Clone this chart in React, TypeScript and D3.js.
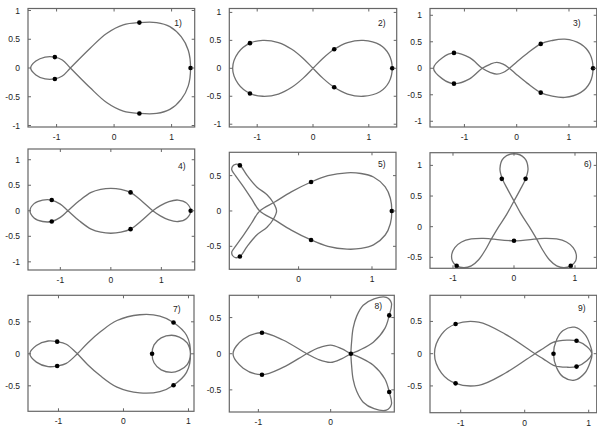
import React from "react";
import * as d3 from "d3";

type Pt = [number, number];

// orbit shapes (x, y in plot units)
const curve1: Pt[] = [
  [1.33, 0], [1.29, 0.31], [1.17, 0.54], [0.97, 0.72], [0.74, 0.79], [0.44, 0.79], [0.16, 0.75],
  [-0.13, 0.6], [-0.42, 0.34], [-0.76, 0], [-0.9, -0.14], [-1.03, -0.19], [-1.2, -0.19],
  [-1.36, -0.12], [-1.45, 0], [-1.36, 0.12], [-1.2, 0.19], [-1.03, 0.19], [-0.9, 0.14], [-0.76, 0],
  [-0.42, -0.34], [-0.13, -0.6], [0.16, -0.75], [0.44, -0.79], [0.74, -0.79], [0.97, -0.72],
  [1.17, -0.54], [1.29, -0.31],
];
const dots1: Pt[] = [[0.44, 0.79], [0.44, -0.79], [1.33, 0], [-1.03, 0.19], [-1.03, -0.19]];

const curve2: Pt[] = [
  [1.42, 0], [1.36, 0.25], [1.2, 0.42], [0.9, 0.5], [0.62, 0.46], [0.38, 0.34], [0.18, 0.18], [0, 0],
  [-0.18, -0.18], [-0.38, -0.34], [-0.62, -0.46], [-0.9, -0.5], [-1.13, -0.45], [-1.34, -0.28],
  [-1.44, 0], [-1.34, 0.28], [-1.13, 0.45], [-0.9, 0.5], [-0.62, 0.46], [-0.38, 0.34], [-0.18, 0.18],
  [0, 0], [0.18, -0.18], [0.38, -0.34], [0.62, -0.46], [0.9, -0.5], [1.2, -0.42], [1.36, -0.25],
];
const dots2: Pt[] = [[-1.13, 0.45], [-1.13, -0.45], [0.38, 0.34], [0.38, -0.34], [1.42, 0]];

const curve3: Pt[] = [
  [1.46, 0], [1.4, 0.27], [1.22, 0.46], [0.92, 0.55], [0.66, 0.52], [0.46, 0.46], [0.2, 0.28],
  [0, 0.12], [-0.14, 0], [-0.26, -0.08], [-0.38, -0.11], [-0.5, -0.08], [-0.66, 0], [-0.9, 0.2],
  [-1.2, 0.29], [-1.42, 0.2], [-1.59, 0], [-1.42, -0.2], [-1.2, -0.29], [-0.9, -0.2], [-0.66, 0],
  [-0.5, 0.08], [-0.38, 0.11], [-0.26, 0.08], [-0.14, 0], [0, -0.12], [0.2, -0.28], [0.46, -0.46],
  [0.66, -0.52], [0.92, -0.55], [1.22, -0.46], [1.4, -0.27],
];
const dots3: Pt[] = [[-1.2, 0.29], [-1.2, -0.29], [0.46, 0.46], [0.46, -0.46], [1.46, 0]];

const curve4: Pt[] = [
  [1.58, 0], [1.5, 0.15], [1.33, 0.21], [1.15, 0.18], [0.98, 0.1], [0.83, 0], [0.6, -0.2],
  [0.39, -0.36], [0.2, -0.42], [0, -0.44], [-0.2, -0.42], [-0.39, -0.36], [-0.62, -0.2], [-0.85, 0],
  [-1.0, 0.13], [-1.17, 0.21], [-1.35, 0.21], [-1.52, 0.14], [-1.6, 0], [-1.52, -0.14],
  [-1.35, -0.21], [-1.17, -0.21], [-1.0, -0.13], [-0.85, 0], [-0.62, 0.2], [-0.39, 0.36],
  [-0.2, 0.42], [0, 0.44], [0.2, 0.42], [0.39, 0.36], [0.6, 0.2], [0.83, 0], [0.98, -0.1],
  [1.15, -0.18], [1.33, -0.21], [1.5, -0.15],
];
const dots4: Pt[] = [[-1.17, 0.21], [-1.17, -0.21], [0.39, 0.36], [0.39, -0.36], [1.58, 0]];

const curve5: Pt[] = [
  [1.27, 0], [1.25, 0.18], [1.18, 0.34], [1.02, 0.48], [0.85, 0.53], [0.66, 0.54], [0.4, 0.5],
  [0.17, 0.41], [-0.1, 0.27], [-0.32, 0.13], [-0.53, 0], [-0.64, -0.17], [-0.75, -0.34],
  [-0.86, -0.5], [-0.91, -0.58], [-0.9, -0.63], [-0.86, -0.66], [-0.8, -0.645], [-0.7, -0.5],
  [-0.57, -0.34], [-0.43, -0.23], [-0.34, -0.11], [-0.3, 0], [-0.34, 0.11], [-0.43, 0.23],
  [-0.57, 0.34], [-0.7, 0.5], [-0.8, 0.645], [-0.86, 0.66], [-0.9, 0.63], [-0.91, 0.58],
  [-0.86, 0.5], [-0.75, 0.34], [-0.64, 0.17], [-0.53, 0], [-0.32, -0.13], [-0.1, -0.27],
  [0.17, -0.41], [0.4, -0.5], [0.66, -0.54], [0.85, -0.53], [1.02, -0.48], [1.18, -0.34],
  [1.25, -0.18],
];
const dots5: Pt[] = [[1.27, 0], [0.17, 0.41], [0.17, -0.41], [-0.8, 0.645], [-0.8, -0.645]];

const curve6: Pt[] = [
  [0, 1.19], [0.17, 1.12], [0.23, 0.95], [0.19, 0.78], [0.1, 0.6], [0, 0.42], [-0.12, 0.2],
  [-0.25, 0], [-0.37, -0.2], [-0.47, -0.38], [-0.58, -0.54], [-0.7, -0.64], [-0.82, -0.67],
  [-0.94, -0.64], [-1.01, -0.56], [-1.02, -0.45], [-0.97, -0.34], [-0.86, -0.25], [-0.7, -0.2],
  [-0.5, -0.19], [-0.37, -0.2], [0, -0.23], [0.37, -0.2], [0.5, -0.19], [0.7, -0.2],
  [0.86, -0.25], [0.97, -0.34], [1.02, -0.45], [1.01, -0.56], [0.93, -0.64], [0.82, -0.67],
  [0.7, -0.64], [0.58, -0.54], [0.47, -0.38], [0.37, -0.2], [0.25, 0], [0.12, 0.2], [0, 0.42],
  [-0.1, 0.6], [-0.19, 0.78], [-0.23, 0.95], [-0.17, 1.12],
];
const dots6: Pt[] = [[-0.2, 0.78], [0.19, 0.78], [0, -0.23], [-0.94, -0.64], [0.93, -0.64]];

const curve7: Pt[] = [
  [-0.71, 0], [-0.55, 0.17], [-0.36, 0.34], [-0.1, 0.52], [0.25, 0.61], [0.56, 0.59], [0.77, 0.49],
  [0.97, 0.29], [1.03, 0], [0.98, -0.17], [0.86, -0.26], [0.74, -0.29], [0.58, -0.25],
  [0.47, -0.14], [0.44, 0], [0.47, 0.14], [0.58, 0.25], [0.74, 0.29], [0.86, 0.26], [0.98, 0.17],
  [1.03, 0], [0.97, -0.29], [0.77, -0.49], [0.56, -0.59], [0.25, -0.61], [-0.1, -0.52],
  [-0.36, -0.34], [-0.55, -0.17], [-0.71, 0], [-0.88, 0.15], [-1.02, 0.19], [-1.16, 0.2],
  [-1.34, 0.13], [-1.44, 0], [-1.34, -0.13], [-1.16, -0.2], [-1.02, -0.19], [-0.88, -0.15],
];
const dots7: Pt[] = [[-1.02, 0.19], [-1.02, -0.19], [0.77, 0.49], [0.77, -0.49], [0.44, 0]];

const curve8: Pt[] = [
  [0.28, 0], [0.4, 0.05], [0.59, 0.16], [0.75, 0.35], [0.81, 0.53], [0.84, 0.7], [0.77, 0.78],
  [0.6, 0.76], [0.45, 0.67], [0.36, 0.52], [0.31, 0.35], [0.29, 0.17], [0.28, 0], [0.29, -0.17],
  [0.31, -0.35], [0.36, -0.52], [0.45, -0.67], [0.6, -0.76], [0.77, -0.78], [0.84, -0.7],
  [0.81, -0.53], [0.75, -0.35], [0.59, -0.16], [0.4, -0.05], [0.28, 0], [0.15, 0.07], [0, 0.12],
  [-0.17, 0.08], [-0.33, 0], [-0.66, -0.19], [-0.95, -0.29], [-1.21, -0.2], [-1.35, 0],
  [-1.21, 0.2], [-0.95, 0.29], [-0.66, 0.19], [-0.33, 0], [-0.17, -0.08], [0, -0.12], [0.15, -0.07],
];
const dots8: Pt[] = [[-0.95, 0.29], [-0.95, -0.29], [0.28, 0], [0.81, 0.53], [0.81, -0.53]];

const curve9: Pt[] = [
  [0.16, 0], [0.29, 0.08], [0.45, 0.18], [0.66, 0.21], [0.81, 0.2], [0.97, 0.11], [1.05, 0],
  [1.02, -0.14], [0.94, -0.3], [0.78, -0.41], [0.6, -0.36], [0.5, -0.22], [0.45, 0], [0.5, 0.22],
  [0.6, 0.36], [0.78, 0.41], [0.94, 0.3], [1.02, 0.14], [1.05, 0], [0.97, -0.11], [0.81, -0.2],
  [0.66, -0.21], [0.45, -0.18], [0.29, -0.08], [0.16, 0], [-0.3, 0.3], [-0.72, 0.49],
  [-1.08, 0.46], [-1.3, 0.3], [-1.41, 0], [-1.3, -0.3], [-1.08, -0.46], [-0.72, -0.49], [-0.3, -0.3],
];
const dots9: Pt[] = [[-1.08, 0.46], [-1.08, -0.46], [0.45, 0], [0.81, 0.2], [0.81, -0.2]];

// tick values
const ticksWide = [-1, 0, 1];
const ticksRightOnly = [0, 1];
const ticksLeftOnly = [-1, 0];
const yTicksFull = [-1, -0.5, 0, 0.5, 1];
const yTicksHalf = [-0.5, 0, 0.5];
const yTicksUpper = [-0.5, 0, 0.5, 1];

const panels = [
  { name: "1)", curve: curve1, dots: dots1, box: [28, 8.5, 194.7, 127], xd: [-1.497, 1.402], yd: [-1.026, 1.035], xt: ticksWide, yt: yTicksFull, lab: [178, 26] },
  { name: "2)", curve: curve2, dots: dots2, box: [229.3, 8.5, 396.7, 127], xd: [-1.5, 1.5], yd: [-1.05, 1.07], xt: ticksWide, yt: yTicksFull, lab: [381.7, 26] },
  { name: "3)", curve: curve3, dots: dots3, box: [430, 8.5, 596.7, 127], xd: [-1.658, 1.53], yd: [-1.108, 1.128], xt: ticksWide, yt: yTicksFull, lab: [576.7, 26] },
  { name: "4)", curve: curve4, dots: dots4, box: [28, 149, 194.7, 270], xd: [-1.64, 1.66], yd: [-1.16, 1.21], xt: ticksWide, yt: yTicksFull, lab: [181.7, 169] },
  { name: "5)", curve: curve5, dots: dots5, box: [229.3, 152.3, 396, 269.3], xd: [-0.944, 1.327], yd: [-0.825, 0.83], xt: ticksRightOnly, yt: yTicksHalf, lab: [381.7, 167] },
  { name: "6)", curve: curve6, dots: dots6, box: [430, 152.7, 596.7, 268.3], xd: [-1.377, 1.356], yd: [-0.679, 1.207], xt: ticksWide, yt: yTicksUpper, lab: [587.7, 167] },
  { name: "7)", curve: curve7, dots: dots7, box: [28, 295.3, 194, 411.3], xd: [-1.469, 1.085], yd: [-0.898, 0.914], xt: ticksWide, yt: yTicksHalf, lab: [176.7, 311.7] },
  { name: "8)", curve: curve8, dots: dots8, box: [229.3, 295.3, 394.3, 412], xd: [-1.402, 0.88], yd: [-0.806, 0.808], xt: ticksLeftOnly, yt: yTicksHalf, lab: [378.3, 309] },
  { name: "9)", curve: curve9, dots: dots9, box: [430, 295.3, 596.7, 412.7], xd: [-1.48, 1.125], yd: [-0.915, 0.905], xt: ticksWide, yt: yTicksHalf, lab: [581.7, 311] },
];

const font = "'Liberation Sans', Arial, sans-serif";

function Panel({ p }: { p: (typeof panels)[number] }) {
  const [x0, y0, x1, y1] = p.box;
  const x = d3.scaleLinear().domain(p.xd).range([x0, x1]);
  const y = d3.scaleLinear().domain(p.yd).range([y1, y0]);
  const line = d3
    .line<Pt>()
    .x((d) => x(d[0]))
    .y((d) => y(d[1]))
    .curve(d3.curveCatmullRomClosed.alpha(0.5));
  const tk = 3;
  return (
    <g>
      <path d={line(p.curve) || ""} fill="none" stroke="#707070" strokeWidth={1.3} />
      {p.dots.map((d, i) => (
        <circle key={i} cx={x(d[0])} cy={y(d[1])} r={2.3} fill="#000" />
      ))}
      <rect x={x0} y={y0} width={x1 - x0} height={y1 - y0} fill="none" stroke="#666" strokeWidth={1.2} />
      {p.xt.map((t) => (
        <g key={"x" + t}>
          <line x1={x(t)} x2={x(t)} y1={y1} y2={y1 - tk} stroke="#666" />
          <line x1={x(t)} x2={x(t)} y1={y0} y2={y0 + tk} stroke="#666" />
          <text x={x(t)} y={y1 + 13} textAnchor="middle" fontSize={8.5} fontFamily={font} fill="#222">
            {String(t)}
          </text>
        </g>
      ))}
      {p.yt.map((t) => (
        <g key={"y" + t}>
          <line x1={x0} x2={x0 + tk} y1={y(t)} y2={y(t)} stroke="#666" />
          <line x1={x1} x2={x1 - tk} y1={y(t)} y2={y(t)} stroke="#666" />
          <text x={x0 - 8} y={y(t) + 3} textAnchor="end" fontSize={8.5} fontFamily={font} fill="#222">
            {String(t)}
          </text>
        </g>
      ))}
      <text x={p.lab[0]} y={p.lab[1]} textAnchor="middle" fontSize={8.5} fontFamily={font} fill="#222">
        {p.name}
      </text>
    </g>
  );
}

export default function App() {
  return (
    <svg width={597} height={427} style={{ position: "absolute", left: 0, top: 0, background: "#fff" }}>
      {panels.map((p) => (
        <Panel key={p.name} p={p} />
      ))}
    </svg>
  );
}
